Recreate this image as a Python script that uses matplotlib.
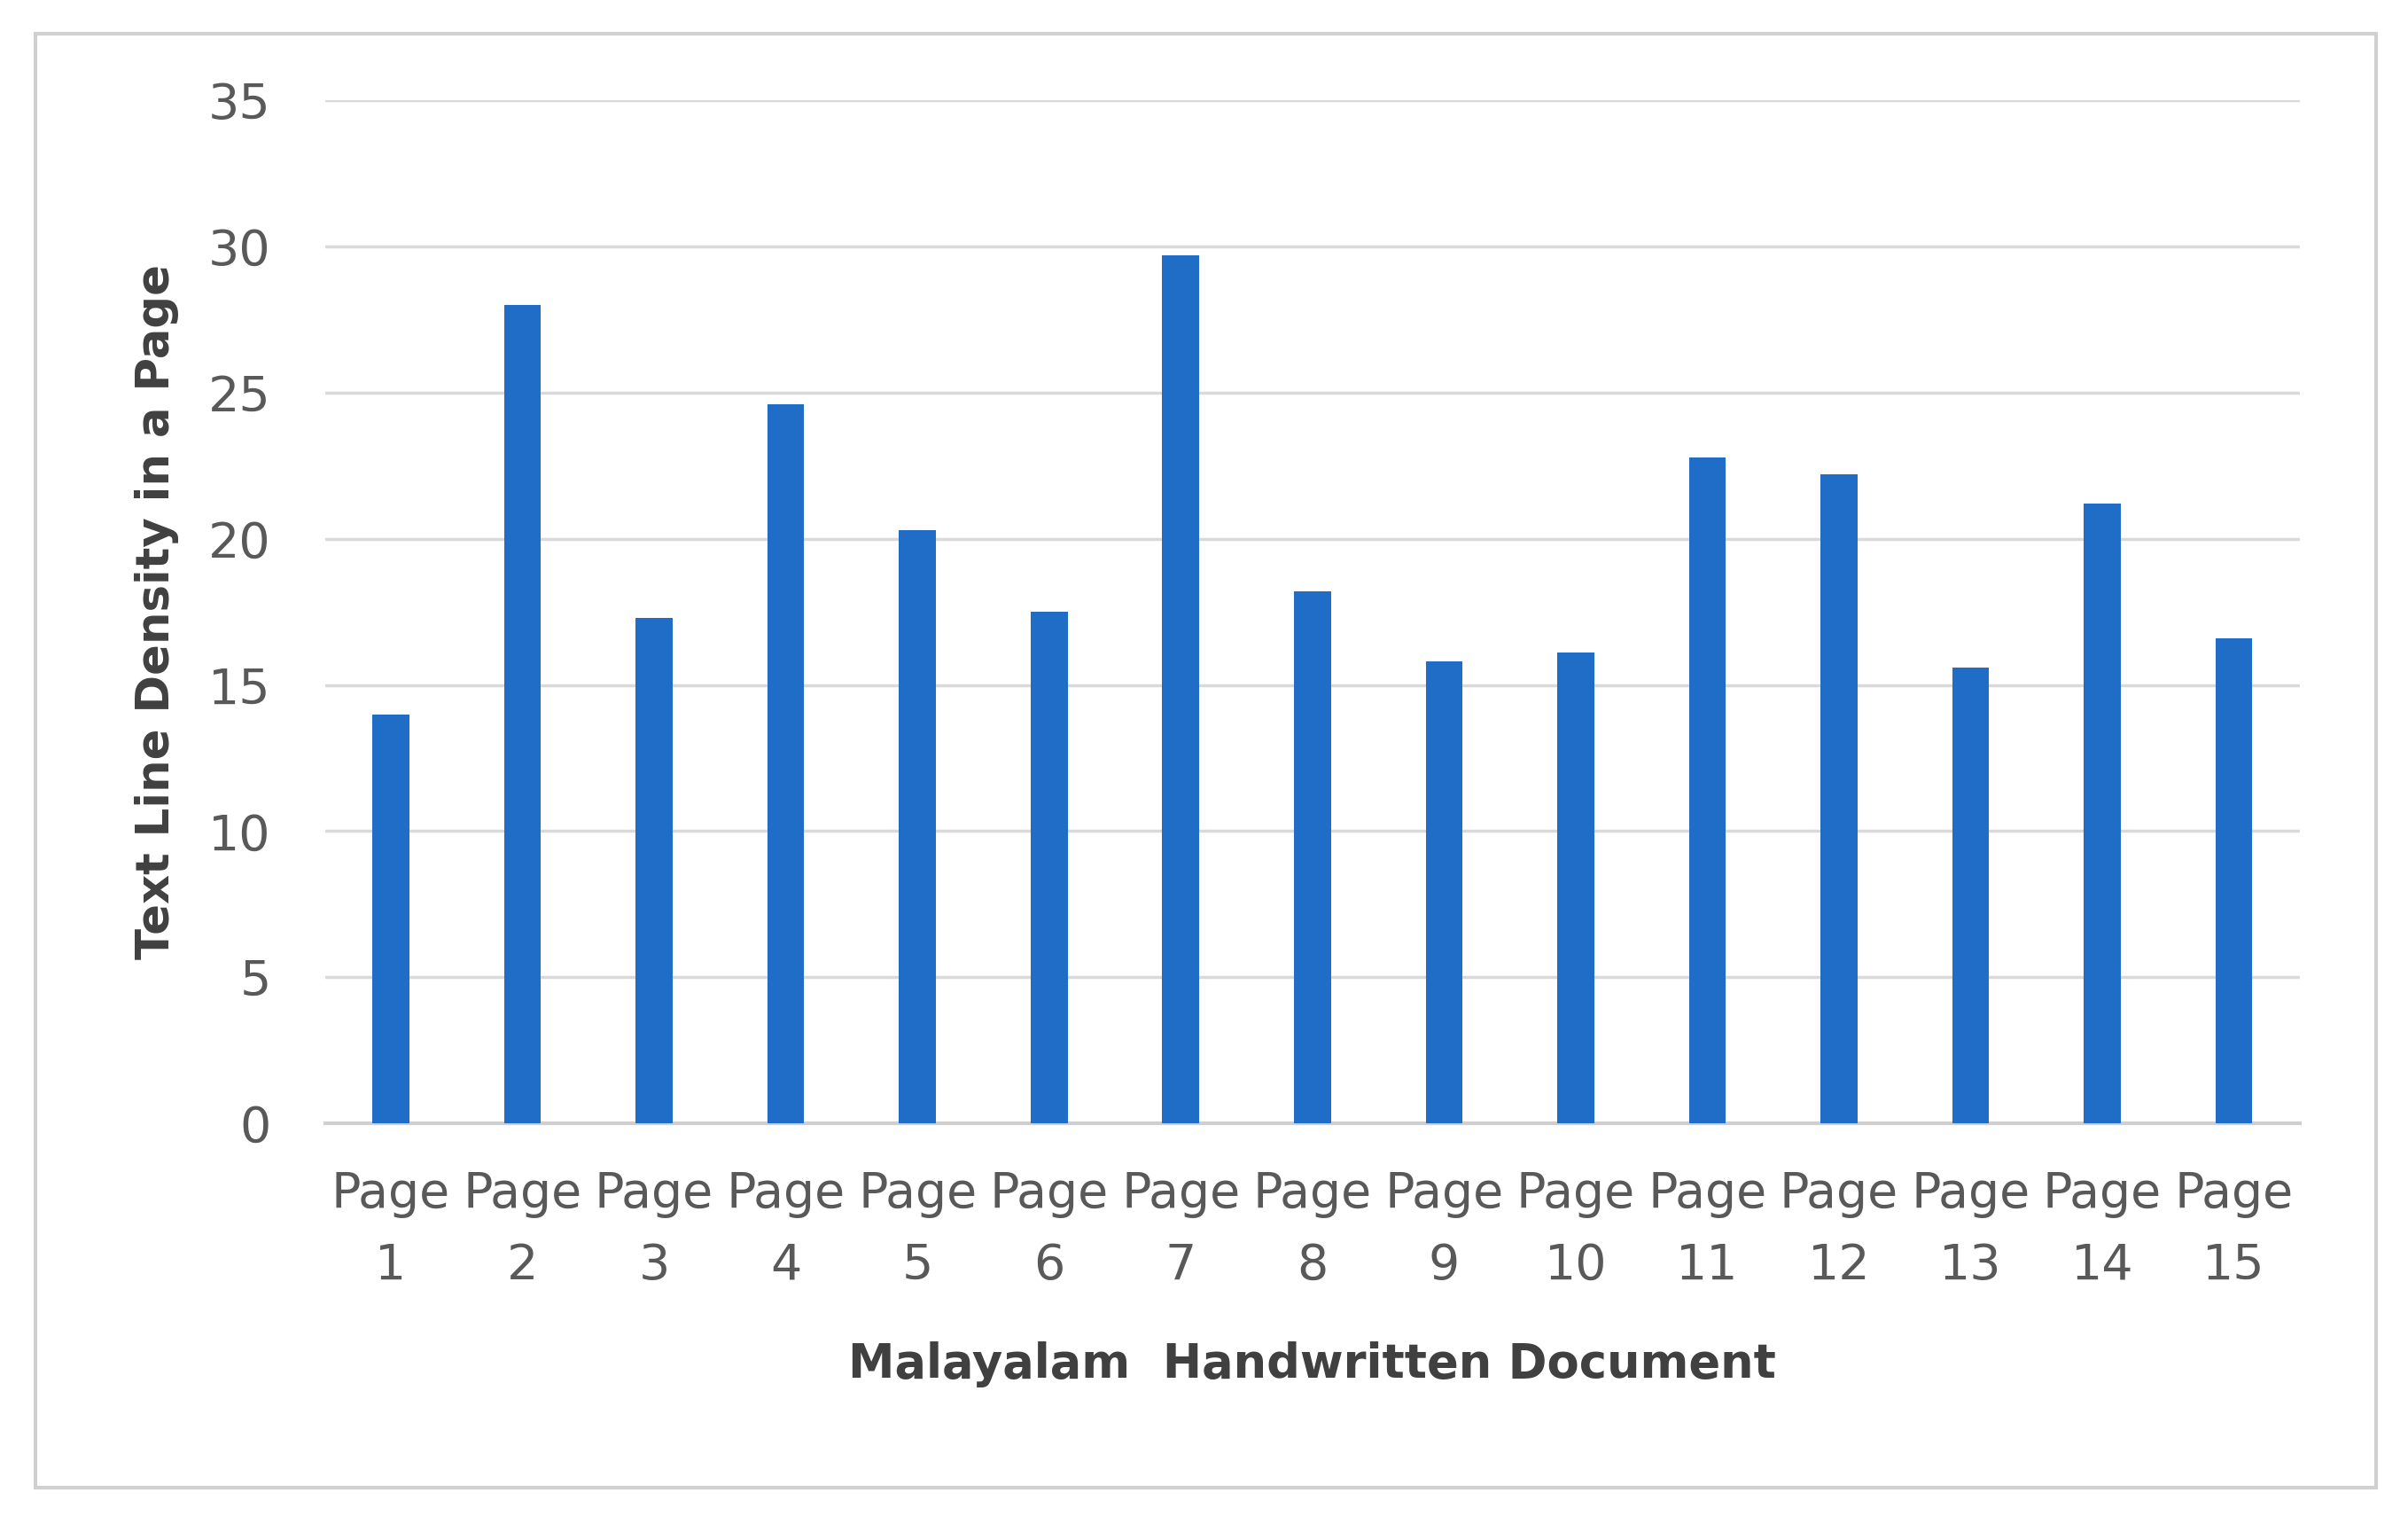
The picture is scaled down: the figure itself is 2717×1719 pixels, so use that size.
import matplotlib.pyplot as plt
from matplotlib.patches import Rectangle

pages = ["Page\n%d" % i for i in range(1, 16)]
density = [14.0, 28.0, 17.3, 24.6, 20.3, 17.5, 29.7, 18.2, 15.8, 16.1, 22.8, 22.2, 15.6, 21.2, 16.6]
y_ticks = [0, 5, 10, 15, 20, 25, 30, 35]

bar_color = "#1f6dc6"
grid_color = "#d9d9d9"
tick_color = "#595959"
label_color = "#404040"

fig = plt.figure(figsize=(27.17, 17.19), dpi=100)
ax = fig.add_axes([0.135, 0.263, 0.82, 0.671])

x = list(range(len(pages)))
ax.bar(x, density, width=0.28, color=bar_color, zorder=3)

ax.set_xlim(-0.5, len(pages) - 0.5)
ax.set_ylim(0, 35)
ax.set_yticks(y_ticks)
ax.set_xticks(x)
ax.set_xticklabels(pages, linespacing=1.65)

ax.grid(axis="y", color=grid_color, linewidth=2.5, zorder=0)
for side in ["top", "right", "left"]:
    ax.spines[side].set_visible(False)
ax.spines["bottom"].set_color("#cfcfcf")
ax.spines["bottom"].set_linewidth(3)

ax.tick_params(axis="both", length=0, labelsize=40, labelcolor=tick_color)
ax.tick_params(axis="y", pad=44)
ax.tick_params(axis="x", pad=38)

ax.set_ylabel("Text Line Density in a Page", fontsize=37, fontweight="bold",
              color=label_color, labelpad=24)
ax.set_xlabel("Malayalam  Handwritten Document", fontsize=38, fontweight="bold",
              color=label_color, labelpad=42)

# light outer frame around the chart
fig.patches.append(Rectangle((0.0147, 0.024), 0.972, 0.954, transform=fig.transFigure,
                             fill=False, edgecolor="#d0d0d0", linewidth=3))

plt.savefig("out.png", dpi=100)
